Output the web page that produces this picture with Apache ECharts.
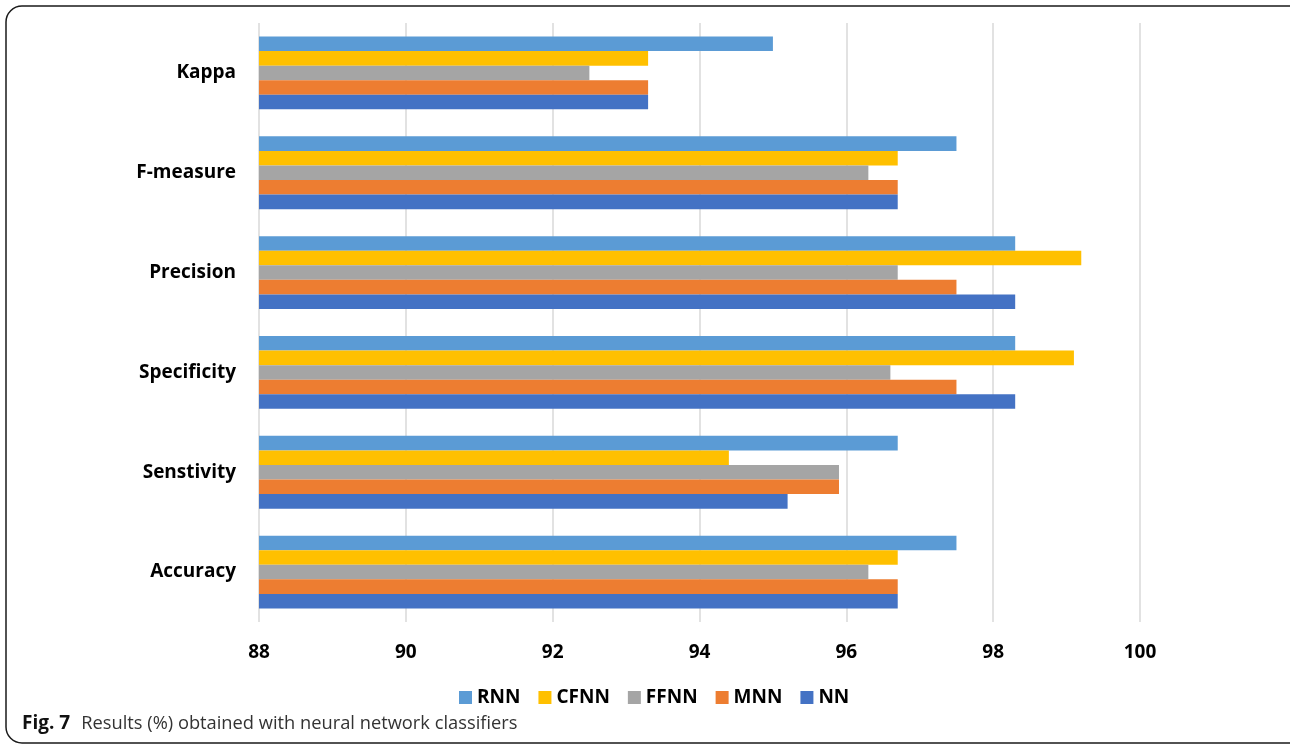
<!DOCTYPE html>
<html>
<head>
<meta charset="utf-8">
<script src="https://cdn.jsdelivr.net/npm/echarts@6/dist/echarts.min.js"></script>
<style>
  html, body { margin: 0; padding: 0; background: #ffffff; }
  #chart { width: 1290px; height: 744px; }
</style>
</head>
<body>
<div id="chart"></div>
<script>
// Metrics, listed bottom to top along the category axis
const categories = ['Accuracy', 'Senstivity', 'Specificity', 'Precision', 'F-measure', 'Kappa'];

// Results (%) per classifier, same order as categories
const rnn  = [97.5, 96.7, 98.3, 98.3, 97.5, 95.0];
const cfnn = [96.7, 94.4, 99.1, 99.2, 96.7, 93.3];
const ffnn = [96.3, 95.9, 96.6, 96.7, 96.3, 92.5];
const mnn  = [96.7, 95.9, 97.5, 97.5, 96.7, 93.3];
const nn   = [96.7, 95.2, 98.3, 98.3, 96.7, 93.3];

const seriesNames = ['RNN', 'CFNN', 'FFNN', 'MNN', 'NN'];
const seriesData = [rnn, cfnn, ffnn, mnn, nn];
const colors = ['#5B9BD5', '#FFC000', '#A5A5A5', '#ED7D31', '#4472C4'];

const FONT = '"Open Sans", "DejaVu Sans", sans-serif';

const chart = echarts.init(document.getElementById('chart'), null, { renderer: 'canvas' });

const series = seriesNames.map((name, i) => ({
  name: name,
  type: 'bar',
  data: seriesData[i],
  barGap: '0%',
  barCategoryGap: '27%',
  itemStyle: { color: colors[i] },
  emphasis: { disabled: true }
}));

chart.setOption({
  animation: false,
  backgroundColor: '#ffffff',
  color: colors,
  grid: { left: 259, right: 150, top: 23, bottom: 122, containLabel: false },
  legend: {
    data: seriesNames,
    left: 454,
    top: 683,
    itemWidth: 13,
    itemHeight: 13,
    itemGap: 18,
    icon: 'rect',
    textStyle: { fontFamily: FONT, fontWeight: 'bold', fontSize: 19, color: '#000000' }
  },
  xAxis: {
    type: 'value',
    min: 88,
    max: 100,
    interval: 2,
    axisLine: { show: false },
    axisTick: { show: false },
    splitLine: { show: true, lineStyle: { color: '#d9d9d9', width: 1.5 } },
    axisLabel: { fontFamily: FONT, fontWeight: 'bold', fontSize: 19, color: '#000000', margin: 21 }
  },
  yAxis: {
    type: 'category',
    data: categories,
    axisLine: { show: false },
    axisTick: { show: false },
    axisLabel: { fontFamily: FONT, fontWeight: 'bold', fontSize: 19, color: '#000000', margin: 23 }
  },
  series: series,
  graphic: [
    {
      type: 'rect',
      shape: { x: 6, y: 6, width: 1300, height: 737, r: 16 },
      style: { fill: 'none', stroke: '#1a1a1a', lineWidth: 1.5 },
      silent: true
    },
    {
      type: 'text',
      left: 22,
      top: 714,
      style: {
        text: '{b|Fig. 7}{r|Results (%) obtained with neural network classifiers}',
        rich: {
          b: { fontFamily: FONT, fontWeight: 'bold', fontSize: 19, fill: '#111111', padding: [0, 11, 0, 0] },
          r: { fontFamily: FONT, fontWeight: 'normal', fontSize: 18.3, fill: '#333333' }
        }
      }
    }
  ]
});
</script>
</body>
</html>
